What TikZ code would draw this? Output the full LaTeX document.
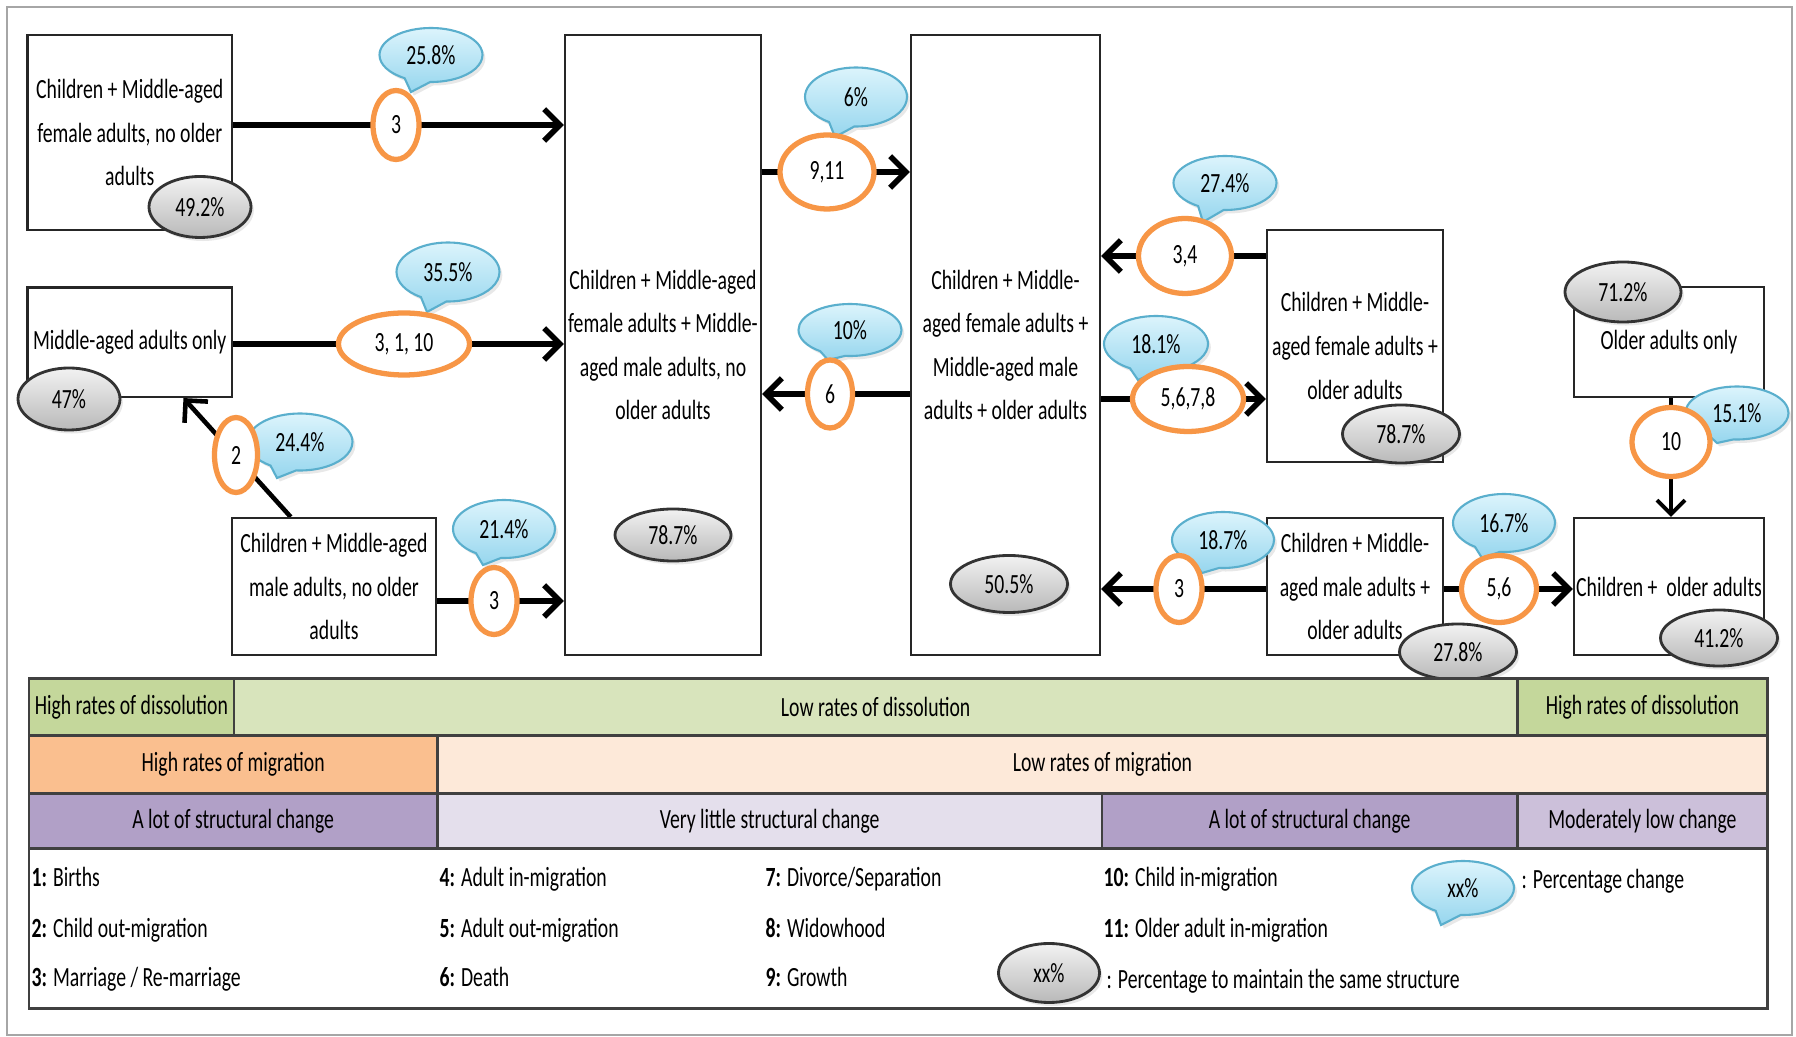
\documentclass[tikz,border=0pt]{standalone}
\usepackage{fontspec}
\setmainfont{Carlito}[FakeStretch=0.71]
\usetikzlibrary{shapes.geometric,shapes.callouts,arrows.meta,shadows,backgrounds,calc}
\definecolor{dgreen}{HTML}{C4D79B}
\definecolor{lgreen}{HTML}{D8E4BC}
\definecolor{orcell}{HTML}{FABF8F}
\definecolor{peach}{HTML}{FDE9D9}
\definecolor{purp}{HTML}{B1A0C7}
\definecolor{lav}{HTML}{E4DFEC}
\definecolor{lpurp}{HTML}{CCC0DA}
\definecolor{orangeB}{HTML}{F79646}
\definecolor{blueB}{HTML}{5AAFCD}
\definecolor{blueT}{HTML}{DCF4FC}
\definecolor{blueM}{HTML}{96D6EE}
\definecolor{greyT}{HTML}{F2F2F2}
\definecolor{greyB}{HTML}{B9B9B9}
\newcommand\fs{\fontsize{7.9}{12.4}\selectfont}
\begin{document}
\begin{tikzpicture}[x=0.01cm,y=-0.01cm,font=\fs,
  box/.style={draw=black!85, line width=0.6pt, fill=white, inner sep=0pt, align=center},
  wh/.style 2 args={minimum width=#1*0.01cm, minimum height=#2*0.01cm},
  orng/.style={ellipse, draw=orangeB, line width=1.5pt, fill=white, inner sep=0pt},
  bub/.style={ellipse callout, draw=blueB, line width=0.6pt, top color=blueT, bottom color=blueM, inner sep=0pt, callout pointer arc=30, drop shadow={opacity=0.18, shadow xshift=0.8pt, shadow yshift=-1pt}},
  gry/.style={ellipse, draw=black!80, line width=0.8pt, top color=greyT, bottom color=greyB, inner sep=0pt, drop shadow={opacity=0.18, shadow xshift=0.8pt, shadow yshift=-1pt}},
  arr/.style={line width=1.6pt, -{Straight Barb[length=4.5pt,width=9pt]}},
  thinarr/.style={line width=1.1pt, -{Straight Barb[length=4pt,width=8pt]}},
  cell/.style={draw=black!75, line width=0.8pt, anchor=north west, inner sep=0pt},
  leg/.style={anchor=base west, inner sep=0pt}
]
\begin{scope}[on background layer]
\fill[white] (0,0) rectangle (1796,1037);
\draw[gray!70, line width=0.6pt] (7,7) rectangle (1792,1035);
\end{scope}
\useasboundingbox (0,0) rectangle (1796,1037);

% boxes
\node[box, wh={204.5}{195}] (A) at (129.75,132.5) {Children + Middle-aged\\female adults, no older\\adults};
\node[box, wh={204.5}{109.5}] (H) at (129.75,342.25) {Middle-aged adults only};
\node[box, wh={204}{137}] (I) at (334,586.5) {Children + Middle-aged\\male adults, no older\\adults};
\node[box, wh={196}{620}] (B) at (663,345) {Children + Middle-aged\\female adults + Middle-\\aged male adults, no\\older adults};
\node[box, wh={189}{620}] (C) at (1005.5,345) {Children + Middle-\\aged female adults +\\Middle-aged male\\adults + older adults};
\node[box, wh={176}{232}] (D) at (1355,346) {Children + Middle-\\aged female adults +\\older adults};
\node[box, wh={176}{137}] (G) at (1355,586.5) {Children + Middle-\\aged male adults +\\older adults};
\node[box, wh={190}{110}] (E) at (1669,342) {Older adults only};
\node[box, wh={190}{137}] (F) at (1669,586.5) {Children +\ \ older adults};

% blue callouts
\node[bub, wh={103}{54}, callout absolute pointer={(411,92)}] (b1) at (431,55) {25.8\%};
\node[bub, wh={103}{59}, callout absolute pointer={(427,312)}] (b2) at (448,272) {35.5\%};
\node[bub, wh={105}{57}, callout absolute pointer={(277,478)}] (b3) at (300,442) {24.4\%};
\node[bub, wh={102}{58}, callout absolute pointer={(483,565)}] (b4) at (504,529) {21.4\%};
\node[bub, wh={102}{59}, callout absolute pointer={(835,137)}] (b5) at (856,97) {6\%};
\node[bub, wh={103}{52}, callout absolute pointer={(828,360)}] (b6) at (850,330) {10\%};
\node[bub, wh={103}{54}, callout absolute pointer={(1203,222)}] (b7) at (1225,183) {27.4\%};
\node[bub, wh={104}{56}, callout absolute pointer={(1138,380)}] (b8) at (1156,344) {18.1\%};
\node[bub, wh={102}{56}, callout absolute pointer={(1202,573)}] (b9) at (1223,540) {18.7\%};
\node[bub, wh={102}{58}, callout absolute pointer={(1482,558)}] (b10) at (1504,523) {16.7\%};
\node[bub, wh={103}{53}, callout absolute pointer={(1717,443)}] (b11) at (1737,413) {15.1\%};

% orange ellipses
\node[orng, wh={46}{69}] (o1) at (396,125) {3};
\node[orng, wh={131}{62}] (o2) at (404,344) {3, 1, 10};
\node[orng, wh={43}{75}] (o3) at (236,455) {2};
\node[orng, wh={46}{67}] (o4) at (494,601) {3};
\node[orng, wh={94}{74}] (o5) at (827,172) {9,11};
\node[orng, wh={45}{68}] (o6) at (830,394) {6};
\node[orng, wh={93}{75}] (o7) at (1185,256) {3,4};
\node[orng, wh={111}{65}] (o8) at (1188,399) {5,6,7,8};
\node[orng, wh={78}{69}] (o9) at (1671,442) {10};
\node[orng, wh={46}{67}] (o10) at (1179,589) {3};
\node[orng, wh={75}{67}] (o11) at (1499,589) {5,6};

% grey ellipses
\node[gry, wh={102}{61}] (g1) at (200,207) {49.2\%};
\node[gry, wh={102}{62}] (g2) at (69,399) {47\%};
\node[gry, wh={116}{52}] (g3) at (673,535) {78.7\%};
\node[gry, wh={117}{57}] (g4) at (1009,584) {50.5\%};
\node[gry, wh={117}{58}] (g5) at (1401,434) {78.7\%};
\node[gry, wh={116}{60}] (g6) at (1623,292) {71.2\%};
\node[gry, wh={117}{56}] (g7) at (1458,652) {27.8\%};
\node[gry, wh={117}{56}] (g8) at (1719,638) {41.2\%};

% connectors
\begin{scope}[on background layer]
\draw[arr] (A.east |- o1) -- (B.west |- o1);
\draw[arr] (H.east |- o2) -- (B.west |- o2);
\draw[arr] (I.east |- o4) -- (B.west |- o4);
\draw[line width=1.3pt, -{Straight Barb[length=4.5pt,width=9pt]}] ($(I.north west)!0.29!(I.north east)$) -- ($(H.south west)!0.76!(H.south east)$);
\draw[arr] (B.east |- o5) -- (C.west |- o5);
\draw[arr] (C.west |- o6) -- (B.east |- o6);
\draw[arr] (D.west |- o7) -- (C.east |- o7);
\draw[arr] (C.east |- o8) -- (D.west |- o8);
\draw[arr] (G.west |- o10) -- (C.east |- o10);
\draw[arr] (G.east |- o11) -- (F.west |- o11);
\draw[thinarr] (E.south -| o9) -- (F.north -| o9);
\end{scope}

% table
\node[cell, fill=dgreen, wh={205}{57}] (t11) at (27.5,677) {High rates of dissolution};
\node[cell, fill=lgreen, wh={1283.5}{57}] (t12) at (232.5,677) {Low rates of dissolution};
\node[cell, fill=dgreen, wh={250}{57}] (t13) at (1516,677) {High rates of dissolution};
\node[cell, fill=orcell, wh={408.5}{58}] (t21) at (27.5,734) {High rates of migration};
\node[cell, fill=peach, wh={1330}{58}] (t22) at (436,734) {Low rates of migration};
\node[cell, fill=purp, wh={408.5}{55}] (t31) at (27.5,792) {A lot of structural change};
\node[cell, fill=lav, wh={664.5}{55}] (t32) at (436,792) {Very little structural change};
\node[cell, fill=purp, wh={415.5}{55}] (t33) at (1100.5,792) {A lot of structural change};
\node[cell, fill=lpurp, wh={250}{55}] (t34) at (1516,792) {Moderately low change};
\node[cell, fill=white, wh={1738.5}{160}] (t41) at (27.5,847) {};

% legend
\node[leg] (l1) at (31,887) {\textbf{1:} Births};
\node[leg] (l2) at (31,938) {\textbf{2:} Child out-migration};
\node[leg] (l3) at (31,987) {\textbf{3:} Marriage / Re-marriage};
\node[leg] (l4) at (439,887) {\textbf{4:} Adult in-migration};
\node[leg] (l5) at (439,938) {\textbf{5:} Adult out-migration};
\node[leg] (l6) at (439,987) {\textbf{6:} Death};
\node[leg] (l7) at (765,887) {\textbf{7:} Divorce/Separation};
\node[leg] (l8) at (765,938) {\textbf{8:} Widowhood};
\node[leg] (l9) at (765,987) {\textbf{9:} Growth};
\node[leg] (l10) at (1103,887) {\textbf{10:} Child in-migration};
\node[leg] (l11) at (1103,938) {\textbf{11:} Older adult in-migration};
\node[bub, wh={102}{54}, callout absolute pointer={(1441,925)}] (bL) at (1463,888) {xx\%};
\node[leg] (lb) at (1521,889) {: Percentage change};
\node[gry, wh={101}{59}] (gL) at (1049,973) {xx\%};
\node[leg] (lg) at (1106,989) {: Percentage to maintain the same structure};
\end{tikzpicture}
\end{document}
